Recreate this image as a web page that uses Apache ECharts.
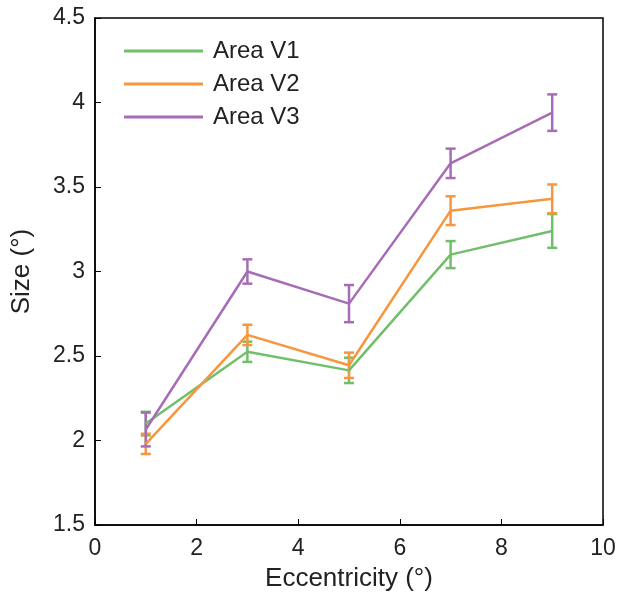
<!DOCTYPE html>
<html>
<head>
<meta charset="utf-8">
<script src="https://cdn.jsdelivr.net/npm/echarts@6/dist/echarts.min.js"></script>
<style>
  html, body { margin: 0; padding: 0; background: #fff; }
  #main { width: 619px; height: 599px; }
</style>
</head>
<body>
<div id="main"></div>
<script>
var ecc = [1, 3, 5, 7, 9];
var seriesNames = ['Area V1', 'Area V2', 'Area V3'];
var v1 = [2.10, 2.525, 2.415, 3.10, 3.24];
var v1Err = [0.07, 0.06, 0.075, 0.08, 0.10];
var v2 = [1.98, 2.625, 2.445, 3.36, 3.43];
var v2Err = [0.06, 0.06, 0.075, 0.085, 0.085];
var v3 = [2.065, 3.0, 2.81, 3.64, 3.94];
var v3Err = [0.10, 0.072, 0.11, 0.087, 0.108];
var colors = ['#72bf6b', '#f7963c', '#a66db6'];

var chartDom = document.getElementById('main');
var myChart = echarts.init(chartDom);

function lineData(vals) {
  return ecc.map(function (x, i) { return [x, vals[i]]; });
}
function errData(vals, errs) {
  return ecc.map(function (x, i) { return [x, vals[i] - errs[i], vals[i] + errs[i]]; });
}
function errSeries(vals, errs, color) {
  return {
    type: 'custom',
    silent: true,
    data: errData(vals, errs),
    encode: { x: 0, y: [1, 2] },
    z: 3,
    renderItem: function (params, api) {
      var lo = api.coord([api.value(0), api.value(1)]);
      var hi = api.coord([api.value(0), api.value(2)]);
      var w = 5;
      var st = { stroke: color, lineWidth: 2.5, fill: null };
      return {
        type: 'group',
        children: [
          { type: 'line', shape: { x1: lo[0], y1: lo[1], x2: hi[0], y2: hi[1] }, style: st },
          { type: 'line', shape: { x1: lo[0] - w, y1: lo[1], x2: lo[0] + w, y2: lo[1] }, style: st },
          { type: 'line', shape: { x1: hi[0] - w, y1: hi[1], x2: hi[0] + w, y2: hi[1] }, style: st }
        ]
      };
    }
  };
}
function lineSeries(name, vals, color) {
  return {
    name: name,
    type: 'line',
    data: lineData(vals),
    showSymbol: false,
    symbol: 'none',
    z: 4,
    lineStyle: { color: color, width: 2.5 },
    itemStyle: { color: color }
  };
}

var font = 'Liberation Sans, Arial, sans-serif';
var option = {
  animation: false,
  color: colors,
  grid: { left: 95, right: 16, top: 18, bottom: 74 },
  legend: {
    orient: 'vertical',
    left: 124,
    top: 39,
    padding: 0,
    itemWidth: 79,
    itemHeight: 3,
    itemGap: 9,
    icon: 'rect',
    data: seriesNames,
    textStyle: { fontSize: 24, lineHeight: 24, color: '#222', fontFamily: font, padding: [0, 0, 0, 5] }
  },
  xAxis: {
    type: 'value',
    min: 0, max: 10, interval: 2,
    name: 'Eccentricity (°)',
    nameLocation: 'middle',
    nameGap: 41,
    nameTextStyle: { fontSize: 26, color: '#222', fontFamily: font },
    axisLine: { onZero: false, lineStyle: { color: '#000', width: 1.5 } },
    axisTick: { inside: true, length: 6, lineStyle: { color: '#000' } },
    axisLabel: { fontSize: 23, color: '#222', fontFamily: font, margin: 12 },
    splitLine: { show: false }
  },
  yAxis: {
    type: 'value',
    min: 1.5, max: 4.5, interval: 0.5,
    name: 'Size (°)',
    nameLocation: 'middle',
    nameGap: 60,
    nameRotate: 90,
    nameTextStyle: { fontSize: 26, color: '#222', fontFamily: font },
    axisLine: { onZero: false, lineStyle: { color: '#000', width: 1.5 } },
    axisTick: { inside: true, length: 6, lineStyle: { color: '#000' } },
    axisLabel: { fontSize: 23, color: '#222', fontFamily: font, margin: 10 },
    splitLine: { show: false }
  },
  series: [
    lineSeries(seriesNames[0], v1, colors[0]),
    lineSeries(seriesNames[1], v2, colors[1]),
    lineSeries(seriesNames[2], v3, colors[2]),
    errSeries(v1, v1Err, colors[0]),
    errSeries(v2, v2Err, colors[1]),
    errSeries(v3, v3Err, colors[2]),
    {
      // box around the plot area
      type: 'custom',
      silent: true,
      data: [[0, 1.5]],
      renderItem: function (params, api) {
        var c = params.coordSys;
        return {
          type: 'rect',
          shape: { x: c.x, y: c.y, width: c.width, height: c.height },
          style: { stroke: '#000', lineWidth: 1.5, fill: null }
        };
      }
    }
  ]
};
myChart.setOption(option);
</script>
</body>
</html>
